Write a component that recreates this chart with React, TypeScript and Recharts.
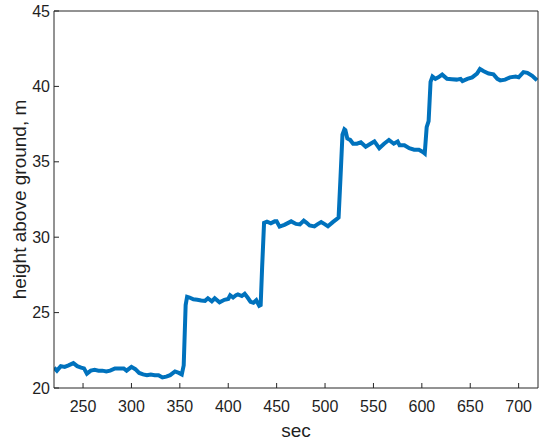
import { Label, Line, LineChart, XAxis, YAxis } from "recharts"

// time stamps (sec) and height above ground (m)
const seconds = [
  220, 223, 227, 231, 235, 240, 244, 248, 251, 254, 258, 262, 266, 270, 274, 278, 283, 287, 292, 295,
  300, 304, 308, 312, 316, 320, 324, 328, 332, 336, 340, 345, 349, 352, 354, 356, 357.5,
  360, 364, 368, 372, 376, 379, 383, 386, 391, 396, 400, 402, 405, 408, 410, 414, 417, 420, 423, 426,
  429, 432, 433.5, 435, 437, 440, 444, 448, 450, 453, 458, 462, 465, 470, 474, 478, 481, 484, 489, 492,
  496, 500, 503, 508, 512, 514, 516, 518, 520, 521, 523, 526, 529, 533, 537, 542, 547, 551, 556, 561,
  566, 571, 575, 577, 582, 587, 592, 597, 601, 603, 605, 607, 609, 611, 614, 617, 621, 626, 631, 636,
  640, 642, 647, 652, 657, 660, 664, 669, 674, 678, 681, 686, 691, 697, 700, 705, 709, 714, 719,
]
const height = [
  21.35, 21.15, 21.45, 21.4, 21.5, 21.65, 21.45, 21.35, 21.3, 20.95, 21.15, 21.2, 21.15, 21.15, 21.1, 21.15, 21.3, 21.3, 21.3, 21.15,
  21.4, 21.25, 21.0, 20.9, 20.85, 20.9, 20.85, 20.85, 20.7, 20.75, 20.85, 21.1, 21.0, 20.9, 21.5, 25.5, 26.05,
  26.0, 25.88, 25.85, 25.8, 25.78, 25.95, 25.75, 25.95, 25.68, 25.85, 25.9, 26.15, 26.0, 26.15, 26.2, 26.1, 26.25, 26.0, 25.72, 25.65,
  25.82, 25.45, 25.5, 28.0, 30.95, 31.03, 30.92, 31.05, 31.05, 30.7, 30.82, 30.95, 31.05, 30.88, 30.85, 31.1, 30.95, 30.78, 30.72, 30.85,
  31.0, 30.85, 30.72, 31.0, 31.2, 31.3, 34.0, 36.8, 37.15, 37.1, 36.55, 36.45, 36.2, 36.2, 36.3, 36.0, 36.2, 36.35, 35.9, 36.2,
  36.45, 36.2, 36.35, 36.1, 36.1, 35.9, 35.8, 35.8, 35.65, 35.55, 37.3, 37.7, 40.3, 40.65, 40.5, 40.6, 40.78, 40.5, 40.48, 40.45,
  40.5, 40.35, 40.5, 40.6, 40.85, 41.15, 41.0, 40.85, 40.8, 40.5, 40.4, 40.45, 40.6, 40.65, 40.6, 40.95, 40.9, 40.7, 40.4,
]
const xTicks = [250, 300, 350, 400, 450, 500, 550, 600, 650, 700]
const yTicks = [20, 25, 30, 35, 40, 45]

const data = seconds.map((t, i) => ({ t, h: height[i] }))

const axisColor = "#262626"
const font = "Arial, 'Liberation Sans', Helvetica, sans-serif"
const tickStyle = { fontSize: 16, fill: "#1f1f1f", fontFamily: font }
const labelStyle = { fontSize: 19, fill: "#1f1f1f", fontFamily: font }

export default function App() {
  return (
    <div style={{ position: "absolute", left: 0, top: 0, background: "#fff" }}>
      <LineChart width={550} height={444} data={data} margin={{ top: 10, right: 11, bottom: 0, left: 0 }}>
        <XAxis
          xAxisId="bottom"
          dataKey="t"
          type="number"
          domain={[220, 720]}
          ticks={xTicks}
          allowDataOverflow
          height={56}
          stroke={axisColor}
          tickSize={-5}
          tickMargin={18}
          tick={tickStyle}
        >
          <Label value="sec" position="insideBottom" offset={7} style={labelStyle} />
        </XAxis>
        <XAxis
          xAxisId="top"
          orientation="top"
          type="number"
          domain={[220, 720]}
          ticks={xTicks}
          height={1}
          stroke={axisColor}
          tickSize={-5}
          tick={false}
        />
        <YAxis
          yAxisId="left"
          type="number"
          domain={[20, 45]}
          ticks={yTicks}
          width={54}
          stroke={axisColor}
          tickSize={-5}
          tickMargin={9}
          tick={tickStyle}
        >
          <Label
            value="height above ground, m"
            angle={-90}
            position="insideLeft"
            offset={19}
            style={{ ...labelStyle, textAnchor: "middle" }}
          />
        </YAxis>
        <YAxis
          yAxisId="right"
          orientation="right"
          type="number"
          domain={[20, 45]}
          ticks={yTicks}
          width={1}
          stroke={axisColor}
          tickSize={-5}
          tick={false}
        />
        <Line
          xAxisId="bottom"
          yAxisId="left"
          dataKey="h"
          type="linear"
          stroke="#0072BD"
          strokeWidth={4}
          dot={false}
          isAnimationActive={false}
        />
      </LineChart>
    </div>
  )
}
